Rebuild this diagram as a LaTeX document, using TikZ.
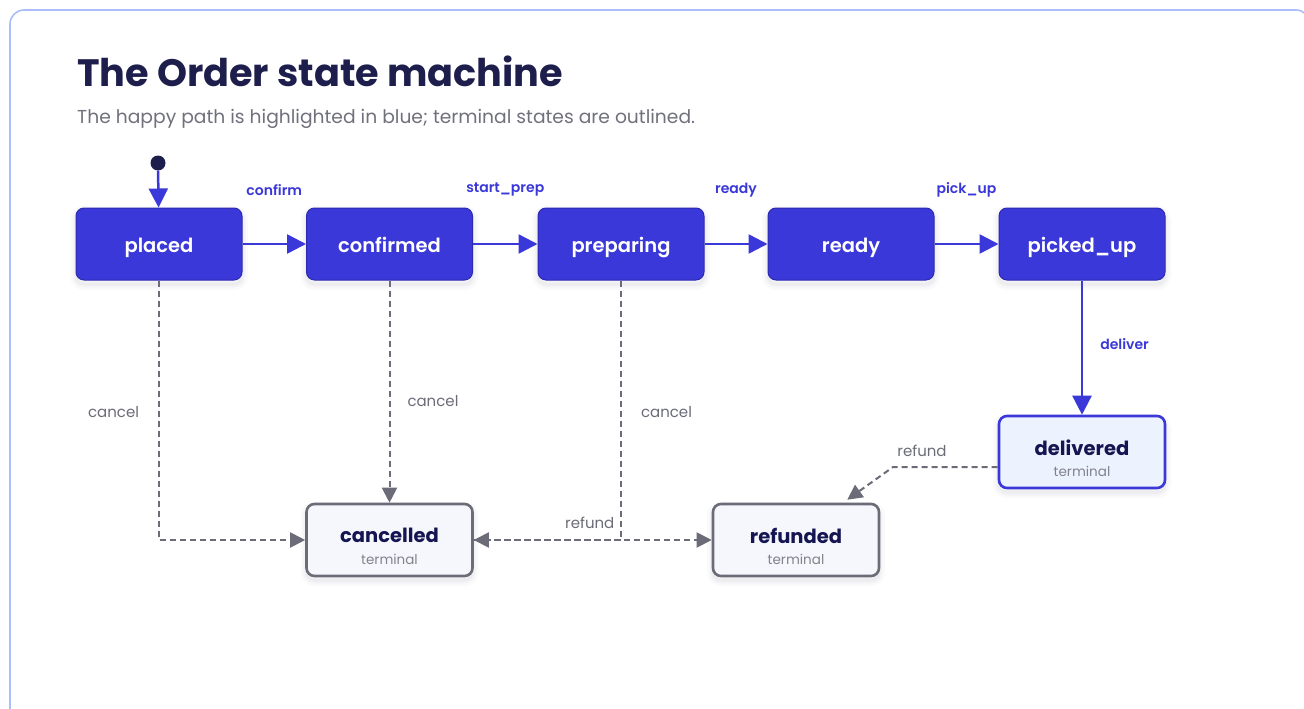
\documentclass[tikz,border=0pt]{standalone}
\usepackage{fontspec}
\setmainfont{Poppins}
\newfontfamily\semibold{Poppins SemiBold}
\usetikzlibrary{arrows.meta}
\definecolor{happy}{HTML}{3B38D9}
\definecolor{happyedge}{HTML}{2D2AB0}
\definecolor{navy}{HTML}{1E1E4C}
\definecolor{ink}{HTML}{151552}
\definecolor{muted}{HTML}{6B6C78}
\definecolor{subtext}{HTML}{70717C}
\definecolor{framecol}{HTML}{A9BEFA}
\definecolor{termfill}{HTML}{F6F7FD}
\definecolor{delfill}{HTML}{EDF3FE}
\definecolor{shade}{HTML}{1E1E4C}

\begin{document}
\begin{tikzpicture}[x=1pt,y=-1pt,
  softshadow/.style={
    preaction={draw=shade, line width=12pt, draw opacity=0.02, transform canvas={yshift=-4pt}},
    preaction={draw=shade, line width=7pt, draw opacity=0.025, transform canvas={yshift=-4pt}},
    preaction={draw=shade, line width=3pt, draw opacity=0.03, transform canvas={yshift=-4pt}}},
  statebox/.style={rectangle, rounded corners=8pt, minimum width=166pt, minimum height=72pt,
    inner sep=0pt, fill=happy, draw=happyedge, line width=1pt, text=white,
    text height=16pt, text depth=0pt,
    font=\fontsize{19.5}{20}\semibold, softshadow},
  termbox/.style={rectangle, rounded corners=8pt, minimum width=166pt, minimum height=72pt,
    inner sep=0pt, fill=termfill, draw=muted, line width=2.6pt, softshadow},
  delbox/.style={termbox, fill=delfill, draw=happy},
  termname/.style={inner sep=0pt, text=ink, font=\fontsize{19.5}{20}\bfseries},
  termnote/.style={inner sep=0pt, text=muted!85, font=\fontsize{13.5}{15}\selectfont},
  happyline/.style={draw=happy, line width=2.5pt, -{Triangle[length=19pt,width=19pt]}},
  cancelline/.style={draw=muted, line width=2pt, dash pattern=on 6pt off 4pt,
    -{Triangle[length=15pt,width=15pt]}},
  happylabel/.style={inner sep=0pt, text=happy, font=\fontsize{14}{16}\semibold},
  greylabel/.style={inner sep=0pt, text=muted, font=\fontsize{15}{17}\selectfont},
]
\useasboundingbox (0,0) rectangle (1304,709);
\clip (0,0) rectangle (1304,709);
\fill[white] (0,0) rectangle (1304,709);
\draw[framecol, line width=1.6pt, rounded corners=14pt] (10,10) rectangle (1310,725);

% heading
\node[anchor=base west, inner sep=0pt, text=navy, font=\fontsize{38.2}{40}\bfseries] (title) at (77,86) {The Order state machine};
\node[anchor=base west, inner sep=0pt, text=subtext, font=\fontsize{18.7}{20}\selectfont] (subtitle) at (77,123) {The happy path is highlighted in blue; terminal states are outlined.};

% happy path states
\node[circle, fill=navy, minimum size=15pt, inner sep=0pt] (start) at (158,163) {};
\node[statebox] (placed)    at (159,244)  {placed};
\node[statebox] (confirmed) at (389.5,244) {confirmed};
\node[statebox] (preparing) at (621,244)  {preparing};
\node[statebox] (ready)     at (851,244)  {ready};
\node[statebox] (pickedup)  at (1082,244) {picked\_up};

% terminal states
\node[delbox]  (delivered) at (1082,452) {};
\node[termbox] (cancelled) at (389.5,540) {};
\node[termbox] (refunded)  at (796,540) {};
\node[termname] (delivered-name) at ([yshift=4.5pt]delivered.center) {delivered};
\node[termnote] (delivered-note) at ([yshift=-19pt]delivered.center) {terminal};
\node[termname] (cancelled-name) at ([yshift=4.5pt]cancelled.center) {cancelled};
\node[termnote] (cancelled-note) at ([yshift=-19pt]cancelled.center) {terminal};
\node[termname] (refunded-name) at ([yshift=4.5pt]refunded.center) {refunded};
\node[termnote] (refunded-note) at ([yshift=-19pt]refunded.center) {terminal};

% happy path transitions
\draw[happyline] (start) -- (placed);
\draw[happyline] (placed) -- (confirmed) node[happylabel, midway, yshift=54pt] {confirm};
\draw[happyline] (confirmed) -- (preparing) node[happylabel, midway, yshift=54pt] {start\_prep};
\draw[happyline] (preparing) -- (ready) node[happylabel, midway, yshift=54pt] {ready};
\draw[happyline] (ready) -- (pickedup) node[happylabel, midway, yshift=54pt] {pick\_up};
\draw[happyline] (pickedup) -- (delivered) node[happylabel, midway, anchor=west, xshift=17pt, yshift=4pt] {deliver};

% cancellations and refunds
\draw[cancelline] (placed.south) |- (cancelled.west)
  node[greylabel, pos=0.25, anchor=east, xshift=-19pt, yshift=-2pt] {cancel};
\draw[cancelline] (confirmed) -- (cancelled)
  node[greylabel, midway, anchor=west, xshift=17pt, yshift=-9pt] {cancel};
\draw[cancelline] (preparing.south) |- (cancelled.east)
  node[greylabel, pos=0.25, anchor=west, xshift=19pt, yshift=-2pt] {cancel};
\draw[cancelline] (cancelled) -- (refunded)
  node[greylabel, midway, xshift=-3pt, yshift=17pt] {refund};
\coordinate (knee) at (893,467);
\draw[cancelline] ([yshift=-15pt]delivered.west) -- (knee) -- ([xshift=-33pt,yshift=3pt]refunded.north east);
\node[greylabel] (refund-label) at (922,451) {refund};
\end{tikzpicture}
\end{document}
